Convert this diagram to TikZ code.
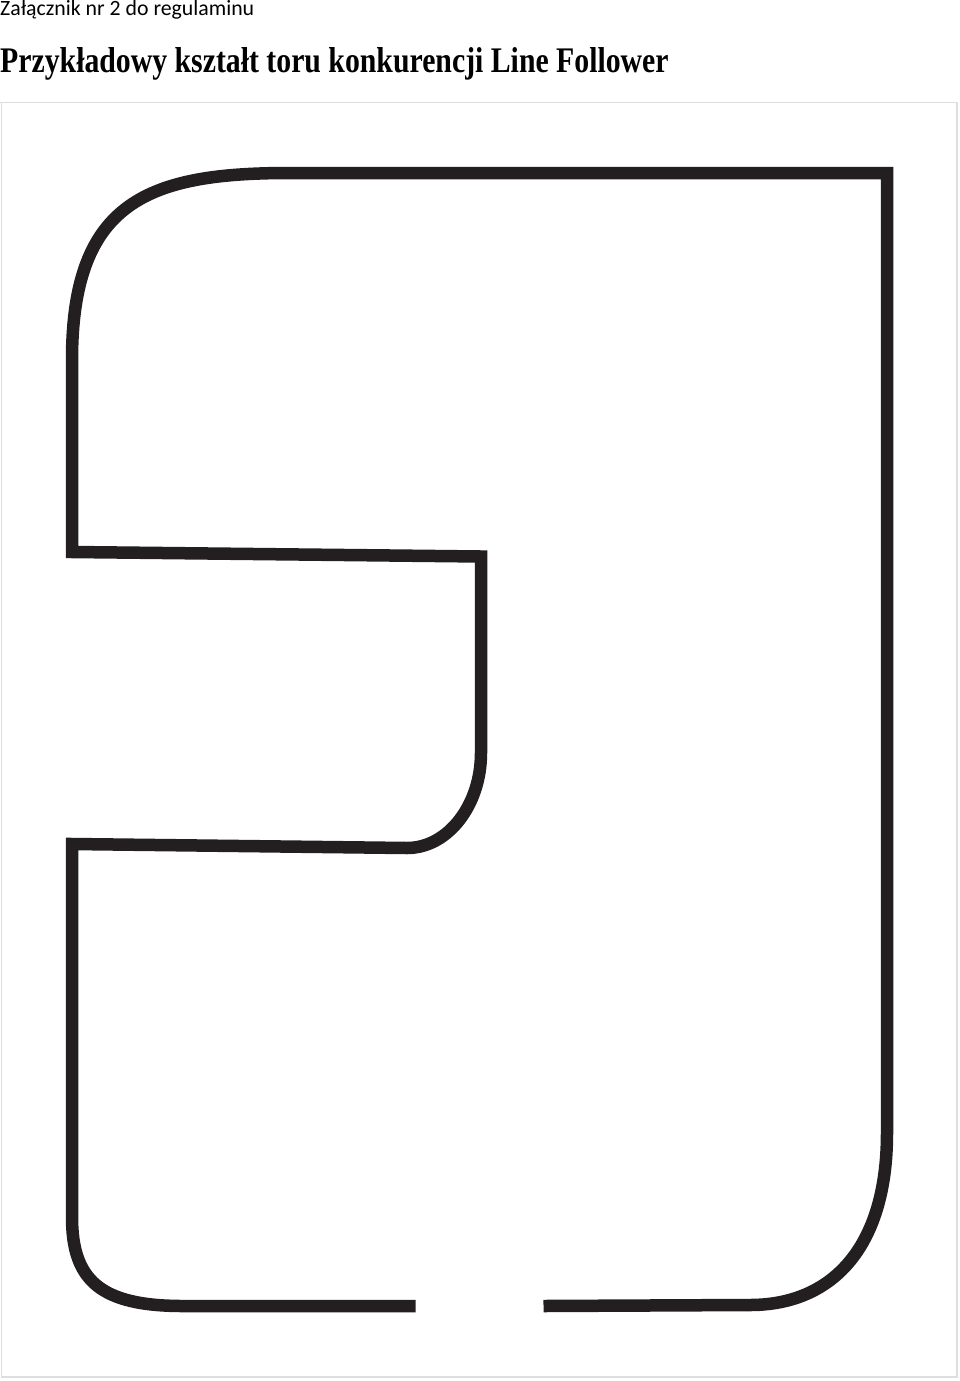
\documentclass[tikz,border=0pt]{standalone}
\usepackage{fontspec}
\setmainfont{Liberation Serif}
\newfontfamily\headfont{Carlito}
\definecolor{trackink}{HTML}{231F20}
\definecolor{framegray}{HTML}{DEDEDE}

\begin{document}
\begin{tikzpicture}[x=1pt,y=-1pt,
    track/.style={draw=trackink,line width=12.5pt,line join=miter,line cap=butt},
    sheet/.style={draw=framegray,line width=1.5pt},
    caption/.style={anchor=base west,inner sep=0pt}]

  %%%% Page size and the frame round the track %%%%
  \useasboundingbox (0,0) rectangle (960,1381);
  \draw[sheet] (0,102.3) -- (958,102.3);
  \draw[sheet] (1.5,102.3) -- (1.5,1377) -- (957,1377) -- (957,102.3);

  %% Texts above
  \node[caption] (header) at (0,16) {\headfont\fontsize{21.8}{24}\selectfont Załącznik nr 2 do regulaminu};
  \node[caption] (title) at (0,72) {\fontsize{36}{40}\selectfont\bfseries\scalebox{0.827}[1]{Przykładowy kształt toru konkurencji Line Follower}};

  %% Set the points of the track
  \foreach \name/\x/\y in {endL/415.7/1306, blA/183/1306, blB/72/1217,
                           lowL/72/844, lowR/407/848, bumpB/481/753,
                           upR/481/556.5, upL/72/552, tlA/72/360,
                           tlB/290/173, tr/887/173, brA/887/1133,
                           brB/750/1305, endR/543.5/1306}{
    \coordinate (\name) at (\x,\y);
  }

  %% Draw the track
  \draw[track] (endL) -- (blA) .. controls (100,1306) and (72,1280) .. (blB)
    -- (lowL) -- (lowR) .. controls (448,848) and (481,805) .. (bumpB)
    -- (upR) -- (upL) -- (tlA) .. controls (72,200) and (150,173) .. (tlB)
    -- (tr) -- (brA) .. controls (887,1250) and (830,1305) .. (brB) -- (endR);

\end{tikzpicture}
\end{document}
